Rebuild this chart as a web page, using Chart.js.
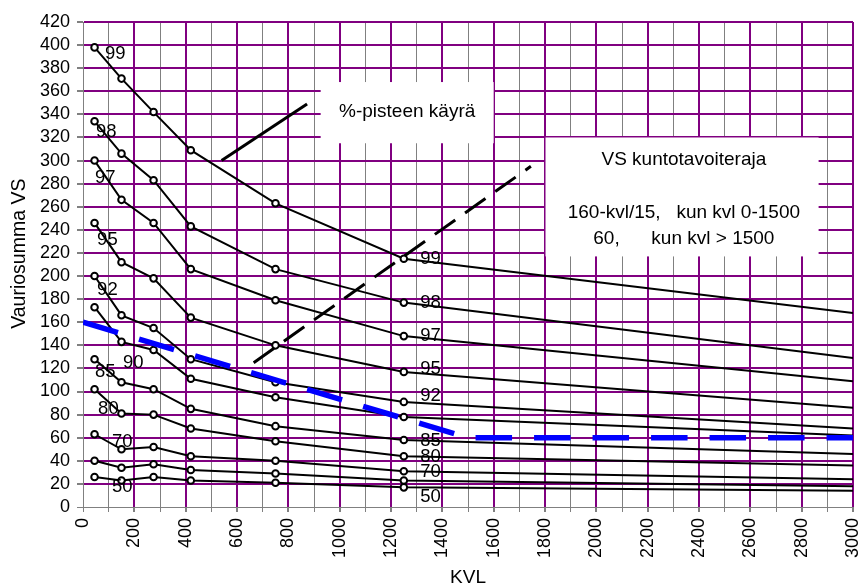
<!DOCTYPE html>
<html><head><meta charset="utf-8">
<script src="https://cdn.jsdelivr.net/npm/chart.js@4"></script>
<style>html,body{margin:0;padding:0;background:#fff}#wrap{width:862px;height:587px;position:relative}</style>
</head><body><div id="wrap"><canvas id="c"></canvas></div>
<script>
// ---- data ----
const kvlPoints = [45, 150, 275, 420, 750, 1250, 3000];
const curveNames = ['99', '98', '97', '95', '92', '90', '85', '80', '70', '60', '50'];
const vs99 = [398, 371, 342, 309, 263, 215, 168];
const vs98 = [334, 306, 283, 243, 206, 177, 129];
const vs97 = [300, 266, 246, 206, 179, 148, 109];
const vs95 = [246, 212, 198, 164, 140, 117, 86];
const vs92 = [200, 166, 155, 128, 108, 91, 68];
const vs90 = [173, 143, 136, 111, 95, 78, 62];
const vs85 = [128, 108, 102, 85, 70, 58, 46];
const vs80 = [102, 81, 80, 68, 57, 44, 36];
const vs70 = [63, 50, 52, 44, 40, 31, 24];
const vs60 = [40, 34, 37, 32, 29, 23, 18];
const vs50 = [26, 23, 26, 23, 21, 17, 14];
const curveValues = [vs99, vs98, vs97, vs95, vs92, vs90, vs85, vs80, vs70, vs60, vs50];

// VS kuntotavoiteraja: 160-kvl/15 (0-1500), 60 (>1500)
const targetKvl = [0, 1500, 3000];
const targetVs = [160, 60, 60];
// %-pisteen käyrä (dashed) and its pointer line
const pctKvl = [665, 1745];
const pctVs = [125, 295];
const pointerKvl = [540, 873];
const pointerVs = [300, 349];

// axis ticks
const xMin = 0, xMax = 3000, xStep = 100, xLabelStep = 200;
const yMin = 0, yMax = 420, yStep = 20;

// ---- annotation placement (data units) ----
const leftLabelPos = {
  '99': [126, 392], '98': [91, 325], '97': [87, 285], '95': [95, 231], '92': [95, 188],
  '90': [196, 125], '85': [87, 117], '80': [99, 85], '70': [153, 56], '50': [153, 17]
};
const rightLabelPos = {
  '99': [1354, 215], '98': [1354, 177], '97': [1354, 148], '95': [1354, 120], '92': [1354, 96],
  '85': [1354, 57], '80': [1354, 43], '70': [1354, 30], '50': [1354, 9]
};
const boxes = [
  {x0: 926, x1: 1600, y0: 315, y1: 368,
   lines: [{t: '%-pisteen käyrä', x: 1263, y: 342.5}]},
  {x0: 1802, x1: 2866, y0: 217, y1: 320,
   lines: [{t: 'VS kuntotavoiteraja', x: 2341, y: 300.7},
           {t: '160-kvl/15,   kun kvl 0-1500', x: 2341, y: 254.5},
           {t: '60,      kun kvl > 1500', x: 2341, y: 232}]}
];

const FONT = '"Liberation Sans", Arial, sans-serif';
const PURPLE = '#800080';
const GRAY = '#808080';

const toXY = (xs, ys) => xs.map((v, i) => ({x: v, y: ys[i]}));

const datasets = [
  {label: 'VS kuntotavoiteraja', data: toXY(targetKvl, targetVs), borderColor: '#0000ff',
   borderWidth: 5.5, borderDash: [36.5, 22], pointRadius: 0, order: 0, borderCapStyle: 'butt'},
  {label: '%-pisteen käyrä', data: toXY(pctKvl, pctVs), borderColor: '#000',
   borderWidth: 3, borderDash: [25, 12], pointRadius: 0, order: 0},
  {label: 'pointer', data: toXY(pointerKvl, pointerVs), borderColor: '#000',
   borderWidth: 3, pointRadius: 0, order: 0}
];
curveNames.forEach((n, k) => {
  datasets.push({
    label: n, data: toXY(kvlPoints, curveValues[k]), borderColor: '#000', borderWidth: 2,
    pointRadius: kvlPoints.map(v => v === 3000 ? 0 : 3.3), pointBackgroundColor: '#fff',
    pointBorderColor: '#000', pointBorderWidth: 2, order: 1
  });
});

const annot = {
  id: 'annot',
  beforeDatasetsDraw(chart) {
    const {ctx, scales: {x, y}} = chart;
    ctx.save();
    boxes.forEach(b => {
      const px0 = x.getPixelForValue(b.x0), px1 = x.getPixelForValue(b.x1);
      const py0 = y.getPixelForValue(b.y1), py1 = y.getPixelForValue(b.y0);
      ctx.fillStyle = '#fff';
      ctx.fillRect(px0, py0, px1 - px0, py1 - py0);
      ctx.fillStyle = '#000';
      ctx.font = '19px ' + FONT;
      ctx.textAlign = 'center';
      ctx.textBaseline = 'middle';
      b.lines.forEach(l => ctx.fillText(l.t, x.getPixelForValue(l.x), y.getPixelForValue(l.y)));
    });
    ctx.restore();
  },
  afterDatasetsDraw(chart) {
    const {ctx, scales: {x, y}} = chart;
    ctx.save();
    ctx.fillStyle = '#000';
    ctx.font = '18.5px ' + FONT;
    ctx.textAlign = 'center';
    ctx.textBaseline = 'middle';
    [leftLabelPos, rightLabelPos].forEach(pos => {
      Object.keys(pos).forEach(n => {
        ctx.fillText(n, x.getPixelForValue(pos[n][0]), y.getPixelForValue(pos[n][1]));
      });
    });
    ctx.restore();
  }
};

new Chart(document.getElementById('c'), {
  type: 'line',
  data: {datasets},
  plugins: [annot],
  options: {
    responsive: true, maintainAspectRatio: false, animation: false,
    layout: {padding: {top: 22, right: 9, left: 0, bottom: 0}},
    plugins: {legend: {display: false}, tooltip: {enabled: false}},
    elements: {line: {tension: 0}},
    scales: {
      x: {
        type: 'linear', min: xMin, max: xMax,
        afterBuildTicks(s) { s.ticks = []; for (let v = xMin; v <= xMax; v += xStep) s.ticks.push({value: v}); },
        afterFit(s) { s.height = 80; s.paddingLeft = 0; s.paddingRight = 0; },
        ticks: {
          stepSize: xStep, autoSkip: false, minRotation: 90, maxRotation: 90, padding: 6,
          color: '#000', font: {size: 18, family: FONT},
          callback: v => (v % xLabelStep === 0 ? String(v) : '')
        },
        grid: {
          color: c => (c.tick && c.tick.value % xLabelStep === 0 && c.tick.value !== 0 ? PURPLE : GRAY),
          lineWidth: c => (c.tick && c.tick.value % xLabelStep === 0 && c.tick.value !== 0 ? 2 : 1),
          tickColor: GRAY, tickLength: 5
        },
        border: {color: GRAY, width: 1},
        title: {display: true, text: 'KVL', color: '#000', font: {size: 19, family: FONT, lineHeight: 1}, padding: 0}
      },
      y: {
        type: 'linear', min: yMin, max: yMax,
        afterBuildTicks(s) { s.ticks = []; for (let v = yMin; v <= yMax; v += yStep) s.ticks.push({value: v}); },
        afterFit(s) { s.width = 83; s.paddingTop = 0; s.paddingBottom = 0; },
        ticks: {stepSize: yStep, autoSkip: false, color: '#000', font: {size: 18, family: FONT}, padding: 7},
        grid: {
          color: c => (c.tick && c.tick.value !== 0 ? PURPLE : GRAY),
          lineWidth: c => (c.tick && c.tick.value !== 0 ? 2 : 1),
          tickColor: GRAY, tickLength: 6
        },
        border: {color: GRAY, width: 1},
        title: {display: true, text: '    Vauriosumma VS', color: '#000', font: {size: 19.5, family: FONT, lineHeight: 1}, padding: {top: 10}}
      }
    }
  }
});
</script>
</body></html>
